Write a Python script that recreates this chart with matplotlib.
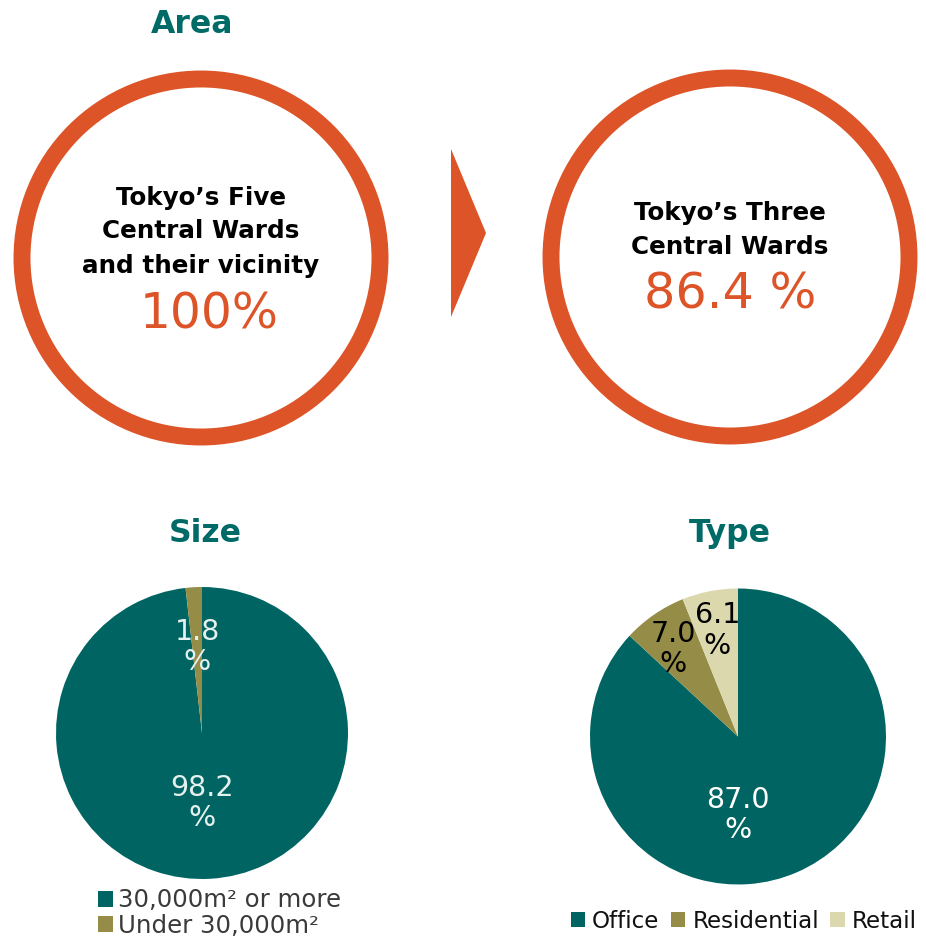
import numpy as np
import matplotlib
matplotlib.use("Agg")
import matplotlib.pyplot as plt
from matplotlib.patches import Circle, Polygon

plt.rcParams['font.family'] = ['DejaVu Sans']

# data
area_from_label = "Tokyo\u2019s Five\nCentral Wards\nand their vicinity"
area_from_value = "100%"
area_to_label = "Tokyo\u2019s Three\nCentral Wards"
area_to_value = "86.4 %"

size_labels = ["30,000m\u00b2 or more", "Under 30,000m\u00b2"]
size_values = [98.2, 1.8]

type_labels = ["Office", "Residential", "Retail"]
type_values = [87.0, 7.0, 6.1]

# colours
TEAL = "#006562"
OLIVE = "#958d47"
BEIGE = "#dcd8ae"
ORANGE = "#dc5427"
TITLE = "#006b66"

W, H = 926, 946
fig = plt.figure(figsize=(W / 100, H / 100), dpi=100)

# background axes in pixel coords (y down)
bg = fig.add_axes([0, 0, 1, 1])
bg.set_xlim(0, W)
bg.set_ylim(H, 0)
bg.axis('off')

# --- Area section ---
bg.text(192, 33, "Area", ha='center', va='baseline', fontsize=22.7,
        fontweight='bold', color=TITLE)

for cx, cy in [(201, 258), (730, 257)]:
    bg.add_patch(Circle((cx, cy), 179, fill=False, ec=ORANGE, lw=12.2))

bg.add_patch(Polygon([(451, 149), (486, 233), (451, 317)], closed=True,
                     fc=ORANGE, ec='none'))

for i, line in enumerate(area_from_label.split("\n")):
    bg.text(201, [205, 238, 273][i], line, ha='center', va='baseline',
            fontsize=17.7, fontweight='bold', color='black')
bg.text(209, 328, area_from_value, ha='center', va='baseline',
        fontsize=35, color=ORANGE)

for i, line in enumerate(area_to_label.split("\n")):
    bg.text(730, [220, 254][i], line, ha='center', va='baseline',
            fontsize=17.7, fontweight='bold', color='black')
bg.text(730, 308, area_to_value, ha='center', va='baseline',
        fontsize=35.5, color=ORANGE)

bg.text(205, 542, "Size", ha='center', va='baseline', fontsize=22.7,
        fontweight='bold', color=TITLE)
bg.text(730, 542, "Type", ha='center', va='baseline', fontsize=22.7,
        fontweight='bold', color=TITLE)


def pie_axes(cx, cy, r):
    ax = fig.add_axes([(cx - r) / W, 1 - (cy + r) / H, 2 * r / W, 2 * r / H])
    return ax


def mid_angles(vals):
    vals = np.asarray(vals, dtype=float)
    cum = np.cumsum(vals) - vals / 2
    return np.deg2rad(90 - 360 * cum / vals.sum())


# --- Size pie ---
ax1 = pie_axes(202, 733, 146)
w1, _ = ax1.pie(size_values, colors=[TEAL, OLIVE], startangle=90,
                counterclock=False, radius=1,
                wedgeprops=dict(linewidth=0))
ax1.set_xlim(-1, 1)
ax1.set_ylim(-1, 1)
ang = mid_angles(size_values)
size_r = [0.48, 0.59]
for k, v in enumerate(size_values):
    x, y = size_r[k] * np.cos(ang[k]), size_r[k] * np.sin(ang[k])
    if k == 0:
        x = 0
    ax1.text(x, y, f"{v:.1f}\n%", ha='center', va='center', fontsize=20.5,
             color="#e4f1ee", linespacing=1.12)

leg1 = fig.legend(w1, size_labels, loc='center left',
                  bbox_to_anchor=(98 / W, 1 - 913 / H), frameon=False,
                  fontsize=17.6, handlelength=0.62, handleheight=0.62,
                  handletextpad=0.2, labelspacing=0.05, borderpad=0,
                  borderaxespad=0)
for t in leg1.get_texts():
    t.set_color("#3a3a3a")

# --- Type pie ---
ax2 = pie_axes(738, 736.5, 148)
w2, _ = ax2.pie(type_values, colors=[TEAL, OLIVE, BEIGE], startangle=90,
                counterclock=False, radius=1,
                wedgeprops=dict(linewidth=0))
ax2.set_xlim(-1, 1)
ax2.set_ylim(-1, 1)
ang = mid_angles(type_values)
type_r = [0.53, 0.72, 0.73]
type_col = ['white', 'black', 'black']
for k, v in enumerate(type_values):
    x, y = type_r[k] * np.cos(ang[k]), type_r[k] * np.sin(ang[k])
    if k == 0:
        x, y = 0, -type_r[k]
    if k == 1:
        x -= 0.03
    ax2.text(x, y, f"{v:.1f}\n%", ha='center', va='center', fontsize=20.5,
             color=type_col[k], linespacing=1.1)

leg2 = fig.legend(w2, type_labels, loc='center left', ncol=3,
                  bbox_to_anchor=(571 / W, 1 - 921 / H), frameon=False,
                  fontsize=16.6, handlelength=0.62, handleheight=0.62,
                  handletextpad=0.3, columnspacing=0.5, borderpad=0,
                  borderaxespad=0)
for t in leg2.get_texts():
    t.set_color("#111111")

fig.savefig("out.png", dpi=100, facecolor='white')
